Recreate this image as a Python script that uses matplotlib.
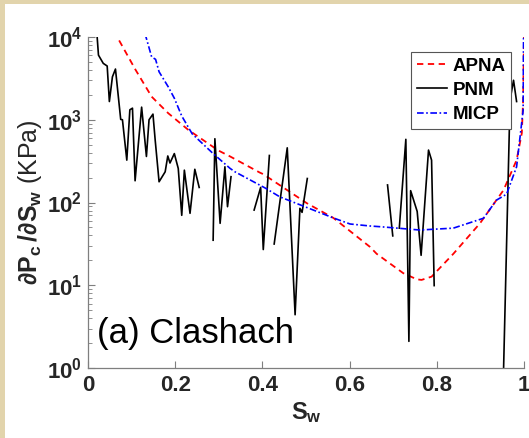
import numpy as np
import matplotlib
matplotlib.use("Agg")
import matplotlib.pyplot as plt
from matplotlib.patches import Rectangle
from matplotlib.ticker import LogLocator, FixedLocator, FixedFormatter, NullFormatter

plt.rcParams['font.family'] = ['Liberation Sans', 'DejaVu Sans']
plt.rcParams['mathtext.fontset'] = 'custom'
plt.rcParams['mathtext.rm'] = 'Liberation Sans:bold'
plt.rcParams['mathtext.bf'] = 'Liberation Sans:bold'
plt.rcParams['mathtext.default'] = 'rm'

nan = np.nan
# PNM (black solid, gaps = NaN)
pnm_x = [0.021, 0.024, 0.035, 0.044, 0.049, 0.056, 0.063, 0.075, 0.079, 0.089, 0.096, 0.102,
         0.108, 0.123, 0.134, 0.140, 0.149, 0.154, 0.163, 0.177, 0.183, 0.188, 0.198, 0.207,
         0.215, 0.221, 0.234, 0.245, 0.255, nan,
         0.287, 0.291, 0.303, 0.314, 0.320, 0.328, nan,
         0.381, 0.396, 0.402, 0.416, nan,
         0.427, 0.457, 0.475, 0.486, 0.491, 0.503, nan,
         0.687, 0.699, nan,
         0.714, 0.729, 0.736, 0.740, 0.755, 0.764, 0.781, 0.788, 0.794, nan,
         0.953, 0.968, 0.976, 0.983]
pnm_y = [10000, 6040, 4800, 4460, 1660, 3300, 4100, 1010, 1000, 325, 1320, 1380,
         183, 1420, 360, 1000, 1170, 575, 178, 235, 365, 300, 390, 258,
         70, 246, 74, 252, 152, nan,
         35, 590, 56, 270, 89, 205, nan,
         81, 152, 27, 370, nan,
         31.5, 458, 4.4, 85, 76, 195, nan,
         163, 39.5, nan,
         49, 580, 2.1, 139, 78, 23, 430, 325, 9.9, nan,
         0.9, 1730, 3000, 1660]

# APNA (red dashed)
apna_x = [0.062, 0.067, 0.108, 0.146, 0.184, 0.230, 0.299, 0.326, 0.394, 0.402, 0.502,
          0.563, 0.647, 0.662, 0.723, 0.754, 0.765, 0.788, 0.838, 0.899, 0.953, 0.983,
          0.995, 0.998, 1.0]
apna_y = [12000, 10000, 4100, 1900, 1200, 755, 425, 360, 230, 220, 98,
          65, 29, 24, 14, 11.8, 11.6, 12.7, 24, 56, 141, 325,
          690, 1730, 10000]

# MICP (blue dash-dot)
micp_x = [0.130, 0.133, 0.146, 0.155, 0.163, 0.184, 0.198, 0.215, 0.239, 0.287, 0.326,
          0.337, 0.406, 0.440, 0.563, 0.601, 0.647, 0.670, 0.761, 0.838, 0.907, 0.937,
          0.960, 0.983, 0.998, 0.999]
micp_y = [11000, 10000, 5740, 5370, 3800, 2500, 1820, 1110, 675, 390, 258,
          235, 150, 117, 65, 55, 52, 51, 46.5, 49, 64.5, 107,
          126, 270, 1300, 10000]

W, H = 529, 438
fig = plt.figure(figsize=(W / 100, H / 100), dpi=100, facecolor='#E2D4AC')
fig.patches.append(Rectangle((5 / W, 0), 1, 1 - 4 / H, transform=fig.transFigure,
                             facecolor='white', edgecolor='none', zorder=-10))

ax = fig.add_axes([88 / W, 1 - 368 / H, (524 - 88) / W, (368 - 37) / H])
ax.set_facecolor('white')

ax.plot(apna_x, apna_y, color='#FF0000', linestyle=(0, (3.5, 2.5)), linewidth=1.3, label='APNA')
ax.plot(pnm_x, pnm_y, color='black', linestyle='-', linewidth=1.2, label='PNM')
ax.plot(micp_x, micp_y, color='#0000FF', linestyle=(0, (4, 1.5, 1, 1.5)), linewidth=1.2, label='MICP')

ax.set_yscale('log')
ax.set_xlim(0, 1)
ax.set_ylim(1, 1e4)

for s in ['top', 'right']:
    ax.spines[s].set_visible(False)
for s in ['left', 'bottom']:
    ax.spines[s].set_color('#7f7f7f')
    ax.spines[s].set_linewidth(0.9)

xt = [0, 0.2, 0.4, 0.6, 0.8, 1]
xtl = ['0', '0.2', '0.4', '0.6', '0.8', '1']
ax.xaxis.set_major_locator(FixedLocator(xt))
ax.xaxis.set_major_formatter(FixedFormatter(xtl))
yt = [1, 10, 100, 1000, 10000]
ytl = [r'$10^{0}$', r'$10^{1}$', r'$10^{2}$', r'$10^{3}$', r'$10^{4}$']
ax.yaxis.set_major_locator(FixedLocator(yt))
ax.yaxis.set_major_formatter(FixedFormatter(ytl))
ax.yaxis.set_minor_locator(LogLocator(base=10, subs=np.arange(2, 10)))
ax.yaxis.set_minor_formatter(NullFormatter())

ax.tick_params(axis='both', which='major', direction='in', length=5, width=0.8,
               color='#7f7f7f', labelsize=16, labelcolor='#262626')
ax.tick_params(axis='y', which='minor', direction='in', length=3, width=0.6, color='#7f7f7f')
ax.tick_params(axis='x', pad=5)
ax.tick_params(axis='y', pad=4)
for lab in ax.get_xticklabels():
    lab.set_fontweight('bold')

ax.set_xlabel(r'$S_w$', fontsize=17, color='#262626', labelpad=3)
ax.set_ylabel(r'$\partial P_c\,/\partial S_w$ (KPa)', fontsize=18, color='#262626', labelpad=2)

ax.text(0.02, 0.075, '(a) Clashach', transform=ax.transAxes, fontsize=25,
        fontweight='normal', color='black', family=['Liberation Sans', 'DejaVu Sans'])

leg = ax.legend(loc='upper right', bbox_to_anchor=(0.970, 0.955), prop={'weight': 'bold', 'size': 13.5},
                frameon=True, fancybox=False, framealpha=1, edgecolor='#555555',
                handlelength=1.6, handletextpad=0.3, labelspacing=0.38, borderpad=0.3,
                borderaxespad=0)
leg.get_frame().set_linewidth(0.8)

fig.savefig('out.png', dpi=100, facecolor=fig.get_facecolor())
